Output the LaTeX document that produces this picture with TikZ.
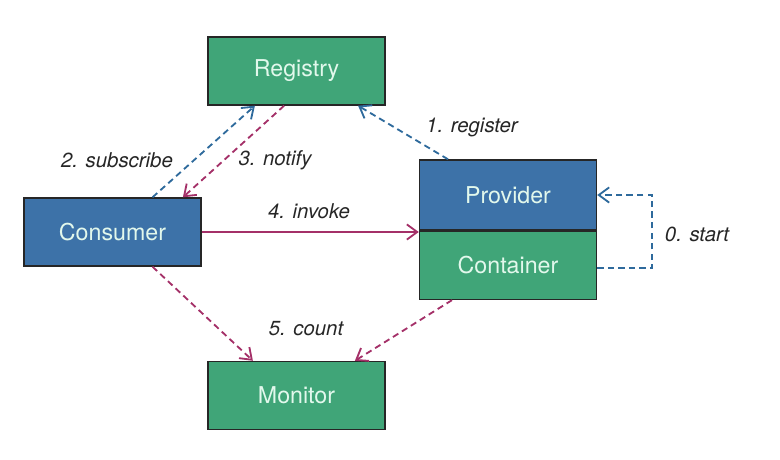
\documentclass[tikz,border=0pt]{standalone}
\usepackage{fontspec}
\setmainfont{TeX Gyre Heros}
\usepackage{tikz}
\usetikzlibrary{arrows.meta}
\usetikzlibrary{positioning}

\definecolor{boxgreen}{RGB}{64,165,120}
\definecolor{boxblue}{RGB}{61,114,168}
\definecolor{boxtext}{RGB}{226,248,236}
\definecolor{callred}{RGB}{164,48,104}
\definecolor{callblue}{RGB}{46,106,156}

\begin{document}
\begin{tikzpicture}[x=0.025cm,y=-0.025cm]
                	\useasboundingbox (0,0) rectangle (780,459);
                	\begin{scope}[every node/.style={draw=black!85, line width=1pt, inner sep=0pt,
                	              minimum width=4.425cm, minimum height=1.7cm, text=boxtext,
                	              font=\fontsize{16.5}{19}\selectfont}]
                	    	\node[fill=boxgreen] (R) at (296.5,71) {Registry};
                		\node[fill=boxblue] (C) at (112.5,232) {Consumer};
                	    	\node[fill=boxblue, minimum height=1.75cm] (P) at (508,195) {Provider};
                		\node[fill=boxgreen, below=0pt of P] (K) {Container};
                		\node[fill=boxgreen] (M) at (296.5,395.5) {Monitor};
                	\end{scope}
                	
                	\begin{scope}[every node/.style={text=black!85, font=\fontsize{14.5}{17}\selectfont\itshape}]
                		\node (lreg) at (472,127) {1. register};
                		\node (lsub) at (117,160) {2. subscribe};
                		\node (lnot) at (275,160) {3. notify};
                		\node (linv) at (309,211) {4. invoke};
                		\node (lcnt) at (306,329) {5. count};
                		\node (lsta) at (697,234) {0. start};
                	\end{scope}
                	
                	\begin{scope}[>={Straight Barb[length=2.6mm,width=3.8mm]},
                	              line width=1.3pt, dash pattern=on 4.5pt off 3pt]
                		\draw[->, callblue] ([xshift=-1.5cm]P.north) -- ([xshift=1.54cm]R.south);
                		\draw[->, callblue] ([xshift=1cm]C.north) -- ([xshift=-1.04cm]R.south);
                		\draw[->, callred] ([xshift=-0.31cm]R.south) -- ([xshift=1.76cm]C.north);
                		\draw[->, callred, solid] (C.east) -- (C.east -| P.west);
                		\draw[->, callblue] ([yshift=-0.07cm]K.east) -- ++(55,0) |- (P.east);
                		\draw[->, callred] ([xshift=1cm]C.south) -- ([xshift=-1.09cm]M.north);
                		\draw[->, callred] ([xshift=-1.4cm]K.south) -- ([xshift=1.46cm]M.north);
                	\end{scope}
\end{tikzpicture}
\end{document}
